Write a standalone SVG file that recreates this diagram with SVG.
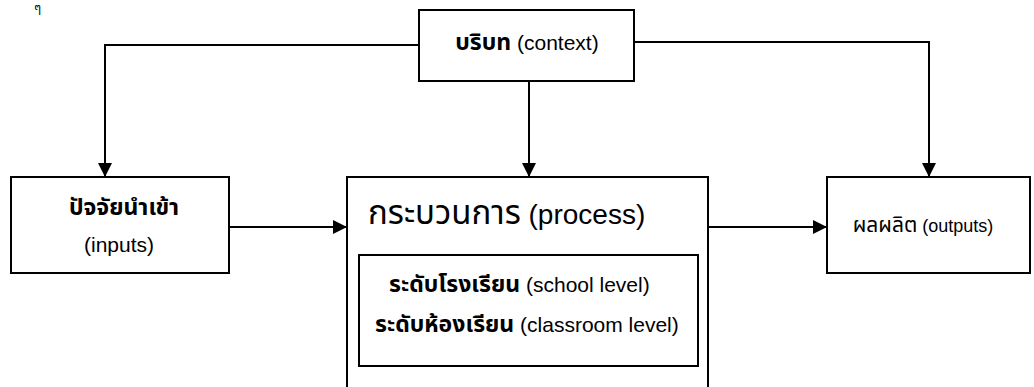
<svg xmlns="http://www.w3.org/2000/svg" width="1034" height="387" viewBox="0 0 1034 387">
<style>
.box{fill:#fff;stroke:#000;stroke-width:2}
.ln{fill:none;stroke:#000;stroke-width:2}
text{font-family:"Liberation Sans","Noto Sans Thai","Noto Sans",sans-serif;fill:#000}
.t16{font-size:21px}
.t22{font-size:28px}
.th{font-size:23px;font-weight:bold}
.thr{font-size:21px}
.thL{font-size:33px}
</style>
<defs>
<marker id="ah" markerUnits="userSpaceOnUse" markerWidth="14" markerHeight="14" viewBox="0 0 14 14" refX="14" refY="7" orient="auto">
<path d="M0,0 L14,7 L0,14 Z" fill="#000"/>
</marker>
</defs>
<rect width="1034" height="387" fill="#fff"/>
<text x="34" y="12" font-size="12">ๆ</text>
<g id="connectors">
<path class="ln" d="M419,45 H105 V177" marker-end="url(#ah)"/>
<path class="ln" d="M529,81 V177" marker-end="url(#ah)"/>
<path class="ln" d="M634,42 H929 V177" marker-end="url(#ah)"/>
<path class="ln" d="M229,227 H347" marker-end="url(#ah)"/>
<path class="ln" d="M708,227 H827" marker-end="url(#ah)"/>
</g>
<g id="context">
<rect class="box" x="419" y="10" width="215" height="71"/>
<text class="t16" x="527" y="50" text-anchor="middle"><tspan class="th">บริบท</tspan> (context)</text>
</g>
<g id="inputs">
<rect class="box" x="11" y="177" width="218" height="96"/>
<text class="th" x="124" y="215" text-anchor="middle" font-size="25">ปัจจัยนำเข้า</text>
<text class="t16" x="119" y="252" text-anchor="middle">(inputs)</text>
</g>
<g id="process">
<rect class="box" x="347" y="177" width="361" height="220"/>
<text class="t22" x="368" y="224"><tspan class="thL">กระบวนการ</tspan> (process)</text>
<rect class="box" x="359" y="255" width="339" height="111"/>
<text class="t16" x="389" y="292"><tspan class="th">ระดับโรงเรียน</tspan> (school level)</text>
<text class="t16" x="375" y="332"><tspan class="th">ระดับห้องเรียน</tspan> (classroom level)</text>
</g>
<g id="outputs">
<rect class="box" x="827" y="177" width="203" height="96"/>
<text x="923" y="232" text-anchor="middle" font-size="18"><tspan class="thr">ผลผลิต</tspan> (outputs)</text>
</g>
</svg>
